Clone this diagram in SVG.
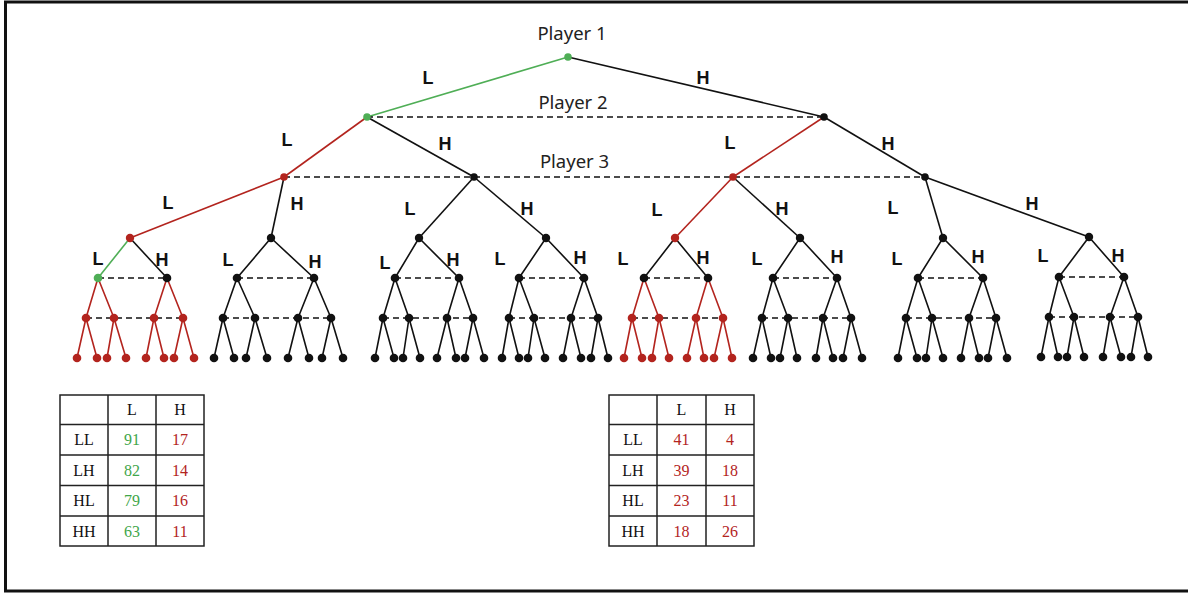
<svg xmlns="http://www.w3.org/2000/svg" width="1188" height="594" viewBox="0 0 1188 594">
<style>
.bg{fill:#fff}
.frame{fill:none;stroke:#111;stroke-width:3}
.k{fill:none;stroke:#111;stroke-width:1.6;stroke-linejoin:round}
.r{fill:none;stroke:#b3241e;stroke-width:1.6;stroke-linejoin:round}
.g{fill:none;stroke:#4fae56;stroke-width:1.6}
.d{fill:none;stroke:#111;stroke-width:1.4;stroke-dasharray:6,4}
.nk{fill:#111}.nr{fill:#b3241e}.ng{fill:#4fae56}
.el{font-family:"Liberation Sans",Arial,sans-serif;font-weight:bold;font-size:18px;fill:#111;text-anchor:middle}
.pl{font-family:"Noto Sans","Open Sans",sans-serif;font-size:18.5px;fill:#222;text-anchor:middle}
.tb{fill:none;stroke:#222;stroke-width:1.5}
.tt{font-family:"Liberation Serif","Times New Roman",serif;font-size:16px;fill:#111;text-anchor:middle}
.tg{fill:#3fa64a}.tr{fill:#b3241e}
</style>
<rect class="bg" x="0" y="0" width="1188" height="594"/>
<rect class="frame" x="5.5" y="2" width="1200" height="589"/>

<g id="connectors">
<line class="g" x1="568" y1="57" x2="367" y2="117"/>
<line class="k" x1="568" y1="57" x2="824" y2="117"/>
<line class="r" x1="367" y1="117" x2="284" y2="177"/>
<line class="k" x1="367" y1="117" x2="474" y2="177"/>
<line class="r" x1="824" y1="117" x2="733" y2="177"/>
<line class="k" x1="824" y1="117" x2="925" y2="177"/>
<line class="r" x1="284" y1="177" x2="130" y2="238"/>
<line class="k" x1="284" y1="177" x2="271" y2="238"/>
<line class="k" x1="474" y1="177" x2="419" y2="238"/>
<line class="k" x1="474" y1="177" x2="546" y2="238"/>
<line class="r" x1="733" y1="177" x2="675" y2="238"/>
<line class="k" x1="733" y1="177" x2="800" y2="238"/>
<line class="k" x1="925" y1="177" x2="943" y2="238"/>
<line class="k" x1="925" y1="177" x2="1089" y2="237"/>
<path class="g" d="M130,238L98,278"/>
<path class="k" d="M130,238L167,278"/>
<path class="r" d="M86,318L98,278L114,318M154,318L167,278L183,318M77,358L86,318L97,358M107,358L114,318L126,358M146,358L154,318L164,358M174,358L183,318L194,358"/>
<path class="k" d="M237,278L271,238L314,278M223,318L237,278L255,318M298,318L314,278L331,318M214,358L223,318L234,358M246,358L255,318L267,358M288,358L298,318L309,358M322,358L331,318L343,358"/>
<path class="k" d="M395,278L419,238L459,278M383,318L395,278L409,318M447,318L459,278L473,318M375,358L383,318L394,358M403,358L409,318L420,358M437,358L447,318L456,358M465,358L473,318L484,358"/>
<path class="k" d="M519,278L546,238L584,278M509,318L519,278L534,318M571,318L584,278L598,318M502,358L509,318L519,358M528,358L534,318L545,358M563,358L571,318L581,358M591,358L598,318L608,358"/>
<path class="k" d="M644,278L675,238L708,278"/>
<path class="r" d="M632,318L644,278L659,318M696,318L708,278L723,318M624,358L632,318L642,358M652,358L659,318L669,358M687,358L696,318L704,358M714,358L723,318L732,358"/>
<path class="k" d="M773,278L800,238L837,278M762,318L773,278L788,318M823,318L837,278L851,318M753,358L762,318L771,358M780,358L788,318L797,358M816,358L823,318L833,358M843,358L851,318L862,358"/>
<path class="k" d="M918,278L943,238L983,278M906,318L918,278L932,318M969,318L983,278L996,318M898,358L906,318L917,358M926,358L932,318L943,358M961,358L969,318L979,358M988,358L996,318L1007,358"/>
<path class="k" d="M1059,277L1089,237L1124,277M1049,317L1059,277L1074,317M1110,317L1124,277L1138,317M1041,357L1049,317L1058,357M1067,357L1074,317L1084,357M1103,357L1110,317L1121,357M1131,357L1138,317L1148,357"/>
<path class="d" d="M367,117H824M284,177H925"/>
<path class="d" d="M98,278H167M237,278H314M395,278H459M519,278H584M644,278H708M773,278H837M918,278H983M1059,277H1124"/>
<path class="d" d="M86,318H183M223,318H331M383,318H473M509,318H598M632,318H723M762,318H851M906,318H996M1049,317H1138"/>
</g>

<g id="edge-labels">
<text class="el" x="428" y="84">L</text><text class="el" x="703" y="84">H</text>
<text class="el" x="287" y="146">L</text><text class="el" x="445" y="150">H</text>
<text class="el" x="730" y="149">L</text><text class="el" x="888" y="150">H</text>
<text class="el" x="168" y="209">L</text><text class="el" x="297" y="210">H</text>
<text class="el" x="410" y="215">L</text><text class="el" x="527" y="215">H</text>
<text class="el" x="657" y="216">L</text><text class="el" x="782" y="215">H</text>
<text class="el" x="893" y="214">L</text><text class="el" x="1032" y="210">H</text>
<text class="el" x="98" y="265">L</text><text class="el" x="162" y="266">H</text>
<text class="el" x="228" y="266">L</text><text class="el" x="315" y="268">H</text>
<text class="el" x="385" y="269">L</text><text class="el" x="453" y="266">H</text>
<text class="el" x="500" y="265">L</text><text class="el" x="580" y="264">H</text>
<text class="el" x="623" y="265">L</text><text class="el" x="703" y="264">H</text>
<text class="el" x="757" y="265">L</text><text class="el" x="837" y="263">H</text>
<text class="el" x="897" y="265">L</text><text class="el" x="978" y="263">H</text>
<text class="el" x="1043" y="262">L</text><text class="el" x="1118" y="262">H</text>
</g>

<g id="player-labels">
<text class="pl" x="572" y="40">Player 1</text>
<text class="pl" x="573" y="109">Player 2</text>
<text class="pl" x="574.5" y="168">Player 3</text>
</g>

<g id="nodes">
<g id="n" class="ng"><circle cx="568" cy="57" r="3.8"/></g>
<g id="nL" class="ng"><circle cx="367" cy="117" r="3.8"/></g>
<g id="nH" class="nk"><circle cx="824" cy="117" r="3.8"/></g>
<g id="nLL" class="nr"><circle cx="284" cy="177" r="3.8"/></g>
<g id="nLH" class="nk"><circle cx="474" cy="177" r="3.8"/></g>
<g id="nHL" class="nr"><circle cx="733" cy="177" r="3.8"/></g>
<g id="nHH" class="nk"><circle cx="925" cy="177" r="3.8"/></g>
<g id="nLLL" class="nr"><circle cx="130" cy="238" r="4.2"/></g>
<g id="nLLH" class="nk"><circle cx="271" cy="238" r="4.2"/></g>
<g id="nLHL" class="nk"><circle cx="419" cy="238" r="4.2"/></g>
<g id="nLHH" class="nk"><circle cx="546" cy="238" r="4.2"/></g>
<g id="nHLL" class="nr"><circle cx="675" cy="238" r="4.2"/></g>
<g id="nHLH" class="nk"><circle cx="800" cy="238" r="4.2"/></g>
<g id="nHHL" class="nk"><circle cx="943" cy="238" r="4.2"/></g>
<g id="nHHH" class="nk"><circle cx="1089" cy="237" r="4.2"/></g>

<g id="nLLLL" class="ng"><circle cx="98" cy="278" r="4.3"/></g>
<g id="nLLLH" class="nk"><circle cx="167" cy="278" r="4.3"/></g>
<g id="nLLHL" class="nk"><circle cx="237" cy="278" r="4.3"/></g>
<g id="nLLHH" class="nk"><circle cx="314" cy="278" r="4.3"/></g>
<g id="nLHLL" class="nk"><circle cx="395" cy="278" r="4.3"/></g>
<g id="nLHLH" class="nk"><circle cx="459" cy="278" r="4.3"/></g>
<g id="nLHHL" class="nk"><circle cx="519" cy="278" r="4.3"/></g>
<g id="nLHHH" class="nk"><circle cx="584" cy="278" r="4.3"/></g>
<g id="nHLLL" class="nk"><circle cx="644" cy="278" r="4.3"/></g>
<g id="nHLLH" class="nk"><circle cx="708" cy="278" r="4.3"/></g>
<g id="nHLHL" class="nk"><circle cx="773" cy="278" r="4.3"/></g>
<g id="nHLHH" class="nk"><circle cx="837" cy="278" r="4.3"/></g>
<g id="nHHLL" class="nk"><circle cx="918" cy="278" r="4.3"/></g>
<g id="nHHLH" class="nk"><circle cx="983" cy="278" r="4.3"/></g>
<g id="nHHHL" class="nk"><circle cx="1059" cy="277" r="4.3"/></g>
<g id="nHHHH" class="nk"><circle cx="1124" cy="277" r="4.3"/></g>

<g id="nLLLLL" class="nr"><circle cx="86" cy="318" r="4.3"/></g>
<g id="nLLLLH" class="nr"><circle cx="114" cy="318" r="4.3"/></g>
<g id="nLLLHL" class="nr"><circle cx="154" cy="318" r="4.3"/></g>
<g id="nLLLHH" class="nr"><circle cx="183" cy="318" r="4.3"/></g>
<g id="nLLHLL" class="nk"><circle cx="223" cy="318" r="4.3"/></g>
<g id="nLLHLH" class="nk"><circle cx="255" cy="318" r="4.3"/></g>
<g id="nLLHHL" class="nk"><circle cx="298" cy="318" r="4.3"/></g>
<g id="nLLHHH" class="nk"><circle cx="331" cy="318" r="4.3"/></g>
<g id="nLHLLL" class="nk"><circle cx="383" cy="318" r="4.3"/></g>
<g id="nLHLLH" class="nk"><circle cx="409" cy="318" r="4.3"/></g>
<g id="nLHLHL" class="nk"><circle cx="447" cy="318" r="4.3"/></g>
<g id="nLHLHH" class="nk"><circle cx="473" cy="318" r="4.3"/></g>
<g id="nLHHLL" class="nk"><circle cx="509" cy="318" r="4.3"/></g>
<g id="nLHHLH" class="nk"><circle cx="534" cy="318" r="4.3"/></g>
<g id="nLHHHL" class="nk"><circle cx="571" cy="318" r="4.3"/></g>
<g id="nLHHHH" class="nk"><circle cx="598" cy="318" r="4.3"/></g>
<g id="nHLLLL" class="nr"><circle cx="632" cy="318" r="4.3"/></g>
<g id="nHLLLH" class="nr"><circle cx="659" cy="318" r="4.3"/></g>
<g id="nHLLHL" class="nr"><circle cx="696" cy="318" r="4.3"/></g>
<g id="nHLLHH" class="nr"><circle cx="723" cy="318" r="4.3"/></g>
<g id="nHLHLL" class="nk"><circle cx="762" cy="318" r="4.3"/></g>
<g id="nHLHLH" class="nk"><circle cx="788" cy="318" r="4.3"/></g>
<g id="nHLHHL" class="nk"><circle cx="823" cy="318" r="4.3"/></g>
<g id="nHLHHH" class="nk"><circle cx="851" cy="318" r="4.3"/></g>
<g id="nHHLLL" class="nk"><circle cx="906" cy="318" r="4.3"/></g>
<g id="nHHLLH" class="nk"><circle cx="932" cy="318" r="4.3"/></g>
<g id="nHHLHL" class="nk"><circle cx="969" cy="318" r="4.3"/></g>
<g id="nHHLHH" class="nk"><circle cx="996" cy="318" r="4.3"/></g>
<g id="nHHHLL" class="nk"><circle cx="1049" cy="317" r="4.3"/></g>
<g id="nHHHLH" class="nk"><circle cx="1074" cy="317" r="4.3"/></g>
<g id="nHHHHL" class="nk"><circle cx="1110" cy="317" r="4.3"/></g>
<g id="nHHHHH" class="nk"><circle cx="1138" cy="317" r="4.3"/></g>

<g id="leaf01" class="nr"><circle cx="77" cy="358" r="4.3"/></g>
<g id="leaf02" class="nr"><circle cx="97" cy="358" r="4.3"/></g>
<g id="leaf03" class="nr"><circle cx="107" cy="358" r="4.3"/></g>
<g id="leaf04" class="nr"><circle cx="126" cy="358" r="4.3"/></g>
<g id="leaf05" class="nr"><circle cx="146" cy="358" r="4.3"/></g>
<g id="leaf06" class="nr"><circle cx="164" cy="358" r="4.3"/></g>
<g id="leaf07" class="nr"><circle cx="174" cy="358" r="4.3"/></g>
<g id="leaf08" class="nr"><circle cx="194" cy="358" r="4.3"/></g>
<g id="leaf09" class="nk"><circle cx="214" cy="358" r="4.3"/></g>
<g id="leaf10" class="nk"><circle cx="234" cy="358" r="4.3"/></g>
<g id="leaf11" class="nk"><circle cx="246" cy="358" r="4.3"/></g>
<g id="leaf12" class="nk"><circle cx="267" cy="358" r="4.3"/></g>
<g id="leaf13" class="nk"><circle cx="288" cy="358" r="4.3"/></g>
<g id="leaf14" class="nk"><circle cx="309" cy="358" r="4.3"/></g>
<g id="leaf15" class="nk"><circle cx="322" cy="358" r="4.3"/></g>
<g id="leaf16" class="nk"><circle cx="343" cy="358" r="4.3"/></g>
<g id="leaf17" class="nk"><circle cx="375" cy="358" r="4.3"/></g>
<g id="leaf18" class="nk"><circle cx="394" cy="358" r="4.3"/></g>
<g id="leaf19" class="nk"><circle cx="403" cy="358" r="4.3"/></g>
<g id="leaf20" class="nk"><circle cx="420" cy="358" r="4.3"/></g>
<g id="leaf21" class="nk"><circle cx="437" cy="358" r="4.3"/></g>
<g id="leaf22" class="nk"><circle cx="456" cy="358" r="4.3"/></g>
<g id="leaf23" class="nk"><circle cx="465" cy="358" r="4.3"/></g>
<g id="leaf24" class="nk"><circle cx="484" cy="358" r="4.3"/></g>
<g id="leaf25" class="nk"><circle cx="502" cy="358" r="4.3"/></g>
<g id="leaf26" class="nk"><circle cx="519" cy="358" r="4.3"/></g>
<g id="leaf27" class="nk"><circle cx="528" cy="358" r="4.3"/></g>
<g id="leaf28" class="nk"><circle cx="545" cy="358" r="4.3"/></g>
<g id="leaf29" class="nk"><circle cx="563" cy="358" r="4.3"/></g>
<g id="leaf30" class="nk"><circle cx="581" cy="358" r="4.3"/></g>
<g id="leaf31" class="nk"><circle cx="591" cy="358" r="4.3"/></g>
<g id="leaf32" class="nk"><circle cx="608" cy="358" r="4.3"/></g>
<g id="leaf33" class="nr"><circle cx="624" cy="358" r="4.3"/></g>
<g id="leaf34" class="nr"><circle cx="642" cy="358" r="4.3"/></g>
<g id="leaf35" class="nr"><circle cx="652" cy="358" r="4.3"/></g>
<g id="leaf36" class="nr"><circle cx="669" cy="358" r="4.3"/></g>
<g id="leaf37" class="nr"><circle cx="687" cy="358" r="4.3"/></g>
<g id="leaf38" class="nr"><circle cx="704" cy="358" r="4.3"/></g>
<g id="leaf39" class="nr"><circle cx="714" cy="358" r="4.3"/></g>
<g id="leaf40" class="nr"><circle cx="732" cy="358" r="4.3"/></g>
<g id="leaf41" class="nk"><circle cx="753" cy="358" r="4.3"/></g>
<g id="leaf42" class="nk"><circle cx="771" cy="358" r="4.3"/></g>
<g id="leaf43" class="nk"><circle cx="780" cy="358" r="4.3"/></g>
<g id="leaf44" class="nk"><circle cx="797" cy="358" r="4.3"/></g>
<g id="leaf45" class="nk"><circle cx="816" cy="358" r="4.3"/></g>
<g id="leaf46" class="nk"><circle cx="833" cy="358" r="4.3"/></g>
<g id="leaf47" class="nk"><circle cx="843" cy="358" r="4.3"/></g>
<g id="leaf48" class="nk"><circle cx="862" cy="358" r="4.3"/></g>
<g id="leaf49" class="nk"><circle cx="898" cy="358" r="4.3"/></g>
<g id="leaf50" class="nk"><circle cx="917" cy="358" r="4.3"/></g>
<g id="leaf51" class="nk"><circle cx="926" cy="358" r="4.3"/></g>
<g id="leaf52" class="nk"><circle cx="943" cy="358" r="4.3"/></g>
<g id="leaf53" class="nk"><circle cx="961" cy="358" r="4.3"/></g>
<g id="leaf54" class="nk"><circle cx="979" cy="358" r="4.3"/></g>
<g id="leaf55" class="nk"><circle cx="988" cy="358" r="4.3"/></g>
<g id="leaf56" class="nk"><circle cx="1007" cy="358" r="4.3"/></g>
<g id="leaf57" class="nk"><circle cx="1041" cy="357" r="4.3"/></g>
<g id="leaf58" class="nk"><circle cx="1058" cy="357" r="4.3"/></g>
<g id="leaf59" class="nk"><circle cx="1067" cy="357" r="4.3"/></g>
<g id="leaf60" class="nk"><circle cx="1084" cy="357" r="4.3"/></g>
<g id="leaf61" class="nk"><circle cx="1103" cy="357" r="4.3"/></g>
<g id="leaf62" class="nk"><circle cx="1121" cy="357" r="4.3"/></g>
<g id="leaf63" class="nk"><circle cx="1131" cy="357" r="4.3"/></g>
<g id="leaf64" class="nk"><circle cx="1148" cy="357" r="4.3"/></g>
</g>

<g id="table-left">
<rect class="tb" x="60" y="395" width="144" height="151"/>
<path class="tb" d="M108,395V546M156,395V546M60,424.5H204M60,455H204M60,485.5H204M60,516H204"/>
<text class="tt" x="132" y="415">L</text><text class="tt" x="180" y="415">H</text>
<text class="tt" x="84" y="445">LL</text><text class="tt tg" x="132" y="445">91</text><text class="tt tr" x="180" y="445">17</text>
<text class="tt" x="84" y="475.5">LH</text><text class="tt tg" x="132" y="475.5">82</text><text class="tt tr" x="180" y="475.5">14</text>
<text class="tt" x="84" y="506">HL</text><text class="tt tg" x="132" y="506">79</text><text class="tt tr" x="180" y="506">16</text>
<text class="tt" x="84" y="536.5">HH</text><text class="tt tg" x="132" y="536.5">63</text><text class="tt tr" x="180" y="536.5">11</text>
</g>

<g id="table-right">
<rect class="tb" x="609" y="395" width="145" height="151"/>
<path class="tb" d="M657,395V546M706,395V546M609,424.5H754M609,455H754M609,485.5H754M609,516H754"/>
<text class="tt" x="681.5" y="415">L</text><text class="tt" x="730" y="415">H</text>
<text class="tt" x="633" y="445">LL</text><text class="tt tr" x="681.5" y="445">41</text><text class="tt tr" x="730" y="445">4</text>
<text class="tt" x="633" y="475.5">LH</text><text class="tt tr" x="681.5" y="475.5">39</text><text class="tt tr" x="730" y="475.5">18</text>
<text class="tt" x="633" y="506">HL</text><text class="tt tr" x="681.5" y="506">23</text><text class="tt tr" x="730" y="506">11</text>
<text class="tt" x="633" y="536.5">HH</text><text class="tt tr" x="681.5" y="536.5">18</text><text class="tt tr" x="730" y="536.5">26</text>
</g>
</svg>
